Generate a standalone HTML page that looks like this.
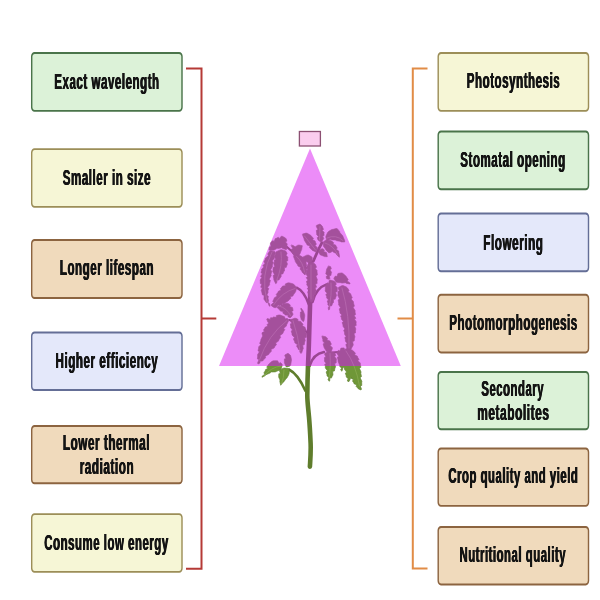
<!DOCTYPE html>
<html><head><meta charset="utf-8"><title>LED light effects</title>
<style>
html,body{margin:0;padding:0;background:#fff;}
body{width:600px;height:600px;position:relative;overflow:hidden;font-family:"Liberation Sans",sans-serif;}
svg{position:absolute;left:0;top:0;display:block;}
text{font-family:"Liberation Sans",sans-serif;font-weight:bold;font-size:21.8px;fill:#141414;text-anchor:middle;letter-spacing:1.0px;}
</style></head><body>
<svg width="600" height="600" viewBox="0 0 600 600">
<g fill="none" stroke-width="2">
<path d="M186 68.5 H201.5 V568.7 H186 M201.5 318.5 H216.3" stroke="#b53a36"/>
<path d="M427.5 68.5 H412.8 V568.6 H427.5 M412.8 318.4 H397.5" stroke="#e18c46"/>
</g>
<rect x="299.4" y="131.5" width="21" height="14.5" fill="#facdee" stroke="#8c5073" stroke-width="1.3"/>
<polygon points="310,148.5 400.8,366 219,366" fill="#ec8cf8"/>
<defs>
<clipPath id="ctop"><rect x="200" y="140" width="220" height="226"/></clipPath>
<clipPath id="cbot"><rect x="200" y="366" width="220" height="120"/></clipPath>
<g id="pl" stroke-linejoin="round" stroke-linecap="round">
<path id="lv" d="M269.0 249.7 L269.4 246.9 L271.0 246.6 L270.4 243.2 L271.0 242.3 L272.7 240.6 L274.1 241.4 L275.3 238.6 L276.3 238.3 L278.3 237.2 L279.4 238.4 L281.3 236.2 L282.3 236.3 L285.4 237.9 L286.3 239.0 L286.9 241.1 L285.5 241.9 L287.3 244.1 L287.0 245.0 L286.9 248.4 L286.3 249.7 L282.8 248.6 L281.7 247.7 L278.4 248.5 L277.0 248.3 L274.3 250.1 L273.0 250.3 L270.1 250.2Z M269.7 251.0 L267.7 254.0 L268.5 255.5 L265.3 258.3 L265.0 259.7 L263.8 262.1 L265.1 263.3 L262.7 265.7 L264.0 266.8 L261.6 269.2 L261.7 270.3 L261.0 272.8 L262.4 273.7 L260.5 276.4 L261.9 277.3 L260.1 280.0 L260.3 281.0 L260.3 283.6 L261.8 284.1 L260.7 287.2 L262.3 287.7 L261.2 290.7 L261.7 291.7 L262.4 294.9 L264.1 295.3 L263.9 299.2 L264.7 300.3 L266.3 302.7 L268.0 302.3 L269.0 305.7 L270.0 306.3 L269.6 303.6 L268.0 303.2 L268.6 299.9 L268.0 299.0 L268.3 296.1 L266.8 295.3 L268.2 292.1 L267.8 291.0 L268.8 288.5 L267.5 287.4 L269.6 284.8 L269.5 283.7 L270.4 280.4 L269.1 279.2 L271.2 275.7 L271.0 274.3 L271.8 271.0 L270.5 269.9 L272.5 266.4 L272.3 265.0 L273.4 262.2 L272.1 261.0 L274.4 258.2 L274.3 257.0 L275.2 253.2 L275.0 251.7 L271.2 250.8Z M276.3 251.7 L280.1 249.9 L281.7 249.7 L285.2 250.8 L286.3 251.7 L287.2 254.0 L285.8 255.0 L287.9 257.3 L287.7 258.3 L287.8 260.8 L286.3 261.3 L287.5 264.1 L287.0 265.0 L286.1 267.6 L284.5 267.6 L284.5 270.9 L283.7 271.7 L282.8 274.0 L281.2 273.9 L281.1 277.0 L280.3 277.7 L278.9 280.1 L277.3 279.8 L276.6 283.1 L275.7 283.7 L273.9 279.9 L273.7 278.3 L273.1 275.5 L274.5 274.5 L272.7 271.5 L273.0 270.3 L273.1 267.4 L274.7 266.8 L273.7 263.4 L274.3 262.3 L274.2 259.9 L275.7 259.4 L274.5 256.6 L275.0 255.7 L275.6 252.7Z M291.7 245.0 L294.3 246.1 L295.0 247.0 L297.7 245.2 L299.0 245.0 L302.3 245.7 L301.7 249.6 L301.0 251.0 L299.9 254.0 L299.0 255.0 L295.7 255.9 L294.3 255.7 L292.1 253.0 L291.7 251.7 L291.3 249.3 L292.8 248.6 L291.3 245.9Z M293.7 255.7 L297.5 254.8 L299.0 255.0 L302.6 257.1 L303.7 258.3 L305.9 262.0 L306.3 263.7 L306.7 266.1 L305.2 266.7 L306.7 269.4 L306.3 270.3 L305.7 273.8 L305.0 275.0 L302.3 272.4 L301.7 271.0 L299.9 269.0 L300.8 267.6 L297.9 266.0 L297.7 265.0 L295.4 261.8 L295.0 260.3 L293.7 257.1Z M303.0 257.0 L306.7 255.2 L308.3 255.0 L311.4 256.6 L312.3 257.7 L312.2 260.6 L311.7 261.7 L308.9 262.5 L307.7 262.3 L305.1 261.2 L304.3 260.3Z M302.7 234.0 L306.0 233.1 L307.3 233.3 L310.9 235.4 L312.0 236.7 L313.5 238.4 L312.6 239.7 L315.2 241.1 L315.3 242.0 L316.4 244.3 L315.1 245.4 L317.4 247.7 L317.3 248.7 L316.0 252.0 L312.4 250.4 L311.3 249.3 L309.4 247.6 L310.0 246.1 L307.1 245.0 L306.7 244.0 L304.4 240.4 L304.0 238.7 L302.7 235.4Z M316.7 225.3 L320.0 224.0 L322.2 226.1 L322.7 227.3 L323.5 229.4 L322.2 230.3 L324.2 232.4 L324.0 233.3 L324.1 235.5 L322.6 235.9 L323.8 238.5 L323.3 239.3 L321.7 241.5 L320.7 242.0 L318.0 240.0 L317.2 237.7 L318.5 236.7 L316.5 234.3 L316.7 233.3 L316.3 230.4 L317.8 229.6 L316.3 226.4Z M326.0 236.0 L327.6 232.4 L328.7 231.3 L331.9 229.5 L333.3 229.3 L336.1 228.5 L337.3 228.7 L339.6 231.4 L340.0 232.7 L342.7 235.8 L343.3 237.3 L344.7 240.6 L344.7 242.0 L341.3 241.9 L340.0 241.3 L336.5 240.7 L335.3 240.0 L331.9 239.9 L330.7 239.3 L327.9 240.2 L326.7 240.0 L325.8 237.2Z M323.3 242.0 L325.6 240.2 L326.7 240.0 L330.6 240.6 L332.0 241.3 L333.7 242.7 L333.0 244.2 L335.7 245.1 L336.0 246.0 L337.3 248.0 L336.2 249.2 L338.7 251.0 L338.7 252.0 L339.5 255.8 L339.3 257.3 L336.6 254.7 L336.0 253.3 L333.4 252.2 L332.7 251.3 L329.9 252.7 L328.7 252.7 L326.0 250.1 L325.3 248.7 L323.5 246.4 L323.3 245.3Z M318.7 250.7 L321.4 248.9 L322.7 248.7 L324.4 250.1 L323.7 251.6 L326.4 252.4 L326.7 253.3 L327.3 256.7 L324.4 256.6 L323.3 256.0 L320.0 254.7 L318.7 251.9Z M308.3 263.7 L311.1 262.3 L312.3 262.3 L315.0 264.0 L315.7 265.0 L316.5 267.3 L315.2 268.3 L317.2 270.7 L317.0 271.7 L317.4 275.0 L315.9 276.0 L317.4 279.7 L317.0 281.0 L317.1 283.6 L315.5 284.1 L316.6 287.2 L315.1 287.7 L316.2 290.7 L315.7 291.7 L315.3 294.7 L313.7 295.1 L314.3 298.7 L313.7 299.7 L312.0 301.8 L311.0 302.3 L309.7 299.5 L310.8 298.3 L308.3 295.5 L308.3 294.3 L307.6 291.8 L309.0 290.9 L307.2 288.3 L308.6 287.4 L306.7 284.7 L307.0 283.7 L306.5 281.2 L307.9 280.3 L306.2 277.6 L307.7 276.8 L306.0 274.0 L306.3 273.0 L306.2 270.5 L307.7 270.0 L306.5 267.2 L307.0 266.3Z M328.7 266.0 L330.7 266.7 L331.3 269.0 L329.9 269.8 L331.6 272.3 L331.3 273.3 L330.9 275.6 L329.3 275.7 L329.9 278.6 L329.3 279.3 L326.7 278.7 L326.1 276.6 L327.5 275.8 L325.7 273.6 L326.0 272.7 L326.6 269.2 L327.3 268.0Z M334.0 278.0 L335.4 276.0 L337.0 276.6 L337.8 273.7 L338.7 273.3 L341.6 272.9 L342.7 273.3 L345.8 275.9 L346.7 277.3 L348.2 279.5 L347.2 280.9 L349.9 282.9 L350.0 284.0 L346.5 283.4 L345.3 282.7 L342.0 283.1 L340.7 282.7 L337.3 282.6 L336.0 282.0 L334.2 279.3Z M326.0 284.7 L327.2 282.8 L328.7 283.3 L329.2 280.4 L330.0 280.0 L333.9 281.1 L335.3 282.0 L336.4 284.3 L335.1 285.4 L337.4 287.7 L337.3 288.7 L337.2 291.6 L335.6 292.2 L336.6 295.6 L336.0 296.7 L335.1 299.2 L333.5 299.2 L333.5 302.5 L332.7 303.3 L331.6 305.9 L329.9 305.8 L329.6 309.3 L328.7 310.0 L328.1 307.6 L329.5 306.8 L327.7 304.3 L328.0 303.3 L327.2 301.0 L328.5 300.0 L326.5 297.7 L326.7 296.7 L325.8 294.4 L327.2 293.4 L325.1 291.0 L325.3 290.0 L325.4 286.1Z M338.7 287.3 L341.7 285.7 L343.0 285.5 L346.4 287.0 L347.5 288.0 L349.1 290.4 L348.1 291.7 L350.8 293.9 L351.0 295.0 L352.3 297.8 L351.1 299.0 L353.5 301.8 L353.5 303.0 L354.4 306.2 L353.1 307.3 L355.2 310.7 L355.0 312.0 L355.6 314.6 L354.2 315.5 L355.9 318.3 L354.5 319.1 L356.3 321.9 L356.0 323.0 L356.2 325.5 L354.6 326.1 L355.9 329.0 L355.5 330.0 L355.5 332.9 L353.9 333.5 L355.0 336.9 L354.5 338.0 L354.2 341.0 L352.6 341.4 L353.3 345.0 L352.7 346.0 L350.7 349.8 L349.5 351.0 L347.0 348.3 L346.5 347.0 L345.8 344.5 L347.2 343.6 L345.3 341.0 L345.5 340.0 L344.8 337.5 L346.2 336.7 L344.4 334.0 L344.7 333.0 L343.7 330.2 L345.0 329.1 L342.9 326.2 L343.0 325.0 L342.1 322.6 L343.4 321.5 L341.3 319.1 L341.5 318.0 L340.6 315.9 L341.9 315.0 L339.8 312.9 L340.0 312.0 L339.2 308.9 L340.5 307.8 L338.5 304.6 L338.7 303.3 L338.1 300.0 L339.5 298.9 L337.7 295.3 L338.0 294.0 L337.9 291.5 L339.4 291.0 L338.2 288.2Z M296.7 287.7 L294.1 284.6 L292.7 283.7 L288.9 282.8 L287.3 283.0 L285.2 284.1 L285.5 285.7 L282.5 286.1 L282.0 287.0 L280.3 288.7 L281.1 290.1 L278.3 291.3 L278.0 292.3 L276.2 294.5 L277.1 296.0 L274.2 297.9 L274.0 299.0 L272.7 301.3 L273.8 302.5 L271.3 304.6 L271.3 305.7 L274.0 307.5 L275.3 307.7 L278.9 306.1 L280.0 305.0 L283.5 303.9 L284.7 303.0 L288.2 300.9 L289.3 299.7 L291.0 298.3 L290.3 296.8 L293.0 295.9 L293.3 295.0 L295.6 291.8 L296.0 290.3Z M276.7 306.3 L278.9 305.0 L280.1 306.2 L282.2 303.7 L283.3 303.7 L287.2 303.3 L288.7 303.7 L290.4 305.1 L289.7 306.6 L292.4 307.4 L292.7 308.3 L293.1 310.7 L291.6 311.4 L293.1 314.1 L292.7 315.0 L291.0 317.2 L290.0 317.7 L287.9 316.8 L288.2 315.2 L285.2 315.1 L284.7 314.3 L282.8 313.1 L283.3 311.6 L280.4 311.1 L280.0 310.3 L277.3 307.7Z M288.7 319.7 L287.0 318.2 L285.6 319.1 L284.3 316.5 L283.3 316.3 L280.1 315.0 L278.7 315.0 L276.4 315.6 L276.4 317.3 L273.4 317.0 L272.7 317.7 L270.5 317.8 L270.2 319.4 L267.5 318.5 L266.7 319.0 L267.8 322.0 L268.7 323.0 L267.0 324.7 L267.8 326.1 L265.0 327.3 L264.7 328.3 L263.4 330.1 L264.5 331.3 L262.0 332.8 L262.0 333.7 L262.7 336.0 L260.9 339.5 L260.7 341.0 L259.6 343.4 L260.9 344.5 L258.6 346.9 L258.7 348.0 L258.0 350.8 L259.4 351.8 L257.5 354.8 L257.7 356.0 L257.4 358.9 L259.0 359.6 L257.6 362.9 L258.0 364.0 L260.1 362.9 L259.8 361.3 L262.8 360.9 L263.3 360.0 L265.7 357.8 L265.2 356.2 L268.7 354.5 L269.3 353.3 L271.5 351.2 L270.9 349.6 L274.2 347.9 L274.7 346.7 L276.5 344.5 L275.6 343.0 L278.5 341.1 L278.7 340.0 L280.7 337.3 L279.8 335.8 L283.0 333.3 L283.3 332.0 L284.8 329.6 L283.7 328.3 L286.4 326.1 L286.5 325.0 L288.4 321.3Z M290.7 319.7 L294.4 318.3 L296.0 318.3 L298.1 319.4 L297.8 321.0 L300.8 321.4 L301.3 322.3 L303.1 324.3 L302.2 325.7 L305.1 327.3 L305.3 328.3 L306.2 330.6 L304.8 331.6 L306.9 334.0 L306.7 335.0 L306.3 337.5 L304.7 337.8 L305.3 340.9 L304.7 341.7 L304.3 344.7 L302.7 345.1 L303.3 348.7 L302.7 349.7 L301.8 352.6 L301.0 353.5 L299.6 351.8 L300.6 350.5 L298.1 349.2 L298.0 348.3 L296.5 346.1 L297.5 344.8 L294.8 342.8 L294.7 341.7 L293.4 338.9 L294.5 337.7 L292.0 334.9 L292.0 333.7 L291.2 331.1 L292.5 330.1 L290.5 327.4 L290.7 326.3 L290.3 323.9 L291.8 323.3 L290.3 320.6Z M301.3 308.3 L303.3 311.0 L304.7 314.7 L304.7 316.3 L304.1 320.3 L303.3 321.7 L301.3 319.7 L300.3 315.9 L300.4 314.3 L300.4 312.1 L301.9 311.7 L300.8 309.1Z M322.3 336.0 L325.7 336.7 L327.6 338.4 L327.0 339.9 L329.9 341.0 L330.3 342.0 L331.4 344.3 L330.1 345.4 L332.4 347.7 L332.3 348.7 L331.0 352.0 L327.6 351.9 L326.3 351.3 L324.1 347.6 L323.7 346.0 L323.1 343.9 L324.5 343.1 L322.7 340.9 L323.0 340.0 L322.1 337.2Z M325.0 353.3 L328.2 351.5 L329.7 351.3 L333.6 352.4 L335.0 353.3 L335.8 355.6 L334.5 356.6 L336.5 359.0 L336.3 360.0 L336.2 362.9 L334.6 363.5 L335.6 366.9 L335.0 368.0 L334.4 371.0 L332.7 371.3 L333.0 375.0 L332.3 376.0 L331.4 378.1 L329.8 377.8 L329.8 380.8 L329.0 381.3 L327.9 379.0 L329.2 377.9 L326.9 375.7 L327.0 374.7 L326.1 371.9 L327.4 370.8 L325.3 367.9 L325.4 366.7 L324.7 364.3 L326.1 363.5 L324.3 361.0 L324.6 360.0 L324.4 357.6 L325.9 357.0 L324.6 354.2Z M337.0 352.0 L338.4 350.3 L339.9 351.0 L340.8 348.3 L341.7 348.0 L344.1 347.9 L344.6 349.4 L347.4 348.2 L348.3 348.7 L352.4 350.2 L353.7 351.3 L355.5 353.3 L354.6 354.7 L357.5 356.3 L357.7 357.3 L359.0 359.6 L357.8 360.8 L360.3 362.9 L360.3 364.0 L360.9 367.3 L359.4 368.3 L361.1 372.0 L360.8 373.3 L361.5 376.6 L360.1 377.7 L361.9 381.3 L361.7 382.7 L361.8 385.4 L360.3 386.0 L361.5 389.0 L361.0 390.0 L358.4 388.9 L357.7 388.0 L356.0 386.3 L356.8 384.9 L354.0 383.7 L353.7 382.7 L352.4 380.9 L353.5 379.7 L351.0 378.2 L351.0 377.3 L349.4 380.9 L348.3 382.0 L347.2 380.0 L348.4 378.9 L346.2 377.0 L346.3 376.0 L345.3 373.2 L346.6 372.1 L344.4 369.2 L344.5 368.0 L343.0 367.0 L342.4 370.2 L341.7 371.3 L340.6 369.3 L341.8 368.2 L339.6 366.3 L339.7 365.3 L338.1 361.6 L338.0 360.0 L337.3 357.2 L338.7 356.2 L336.8 353.2Z M285.3 354.7 L288.0 353.3 L290.2 355.0 L290.7 356.0 L291.5 359.8 L291.3 361.3 L290.7 364.8 L290.0 366.0 L287.2 366.9 L286.0 366.7 L284.5 362.9 L284.4 361.3 L284.4 358.9 L285.9 358.4 L284.8 355.6Z M282.0 364.0 L280.3 362.5 L279.0 363.4 L277.6 360.8 L276.7 360.7 L273.3 360.8 L272.0 361.3 L268.9 363.9 L268.0 365.3 L266.7 367.1 L267.8 368.3 L265.3 369.8 L265.3 370.7 L263.8 372.9 L264.8 374.2 L262.1 376.2 L262.0 377.3 L265.1 375.7 L266.0 374.7 L270.0 373.1 L271.3 372.0 L275.2 371.9 L276.7 371.3 L280.2 369.8 L281.3 368.7 L282.2 365.4Z M280.0 370.0 L283.2 368.2 L284.7 368.0 L288.1 368.6 L289.3 369.3 L289.2 373.2 L288.7 374.7 L287.1 377.8 L286.0 378.7 L283.9 381.8 L282.7 382.7 L280.7 385.3 L279.8 381.5 L280.0 380.0 L278.7 377.2 L278.7 376.0 L278.8 373.8 L280.4 373.5 L279.5 370.8Z" stroke-width="0.6"/>
</g>
<g id="st" fill="none" stroke-linecap="round">
<path d="M309.9 466.6 C310.3 460 311 452 310.6 443 C310.2 434 309.8 426 309 417 C308.2 408 307.2 401 307.3 395 C307.4 385 307.6 376 308 366 C308.4 357 308.8 348 309 340 C309.3 330 309.6 320 310.2 300 L310.5 262" stroke-width="4.6"/>
<path d="M287 247 Q292 251 296 256 T306 268" stroke-width="2.2"/>
<path d="M322 242.7 Q318 250 313.3 261.3" stroke-width="2.8"/>
<path d="M296.7 287.7 Q304 291 308.7 304.3" stroke-width="2.4"/>
<path d="M326.5 284.4 Q316 288 312.6 302" stroke-width="2.4"/>
<path d="M289.3 320 Q300 322 308 334" stroke-width="2.0"/>
<path d="M324 352 Q313 354 309.7 366" stroke-width="2.4"/>
<path d="M289 369.5 Q298 374 305.5 391" stroke-width="2.6"/>
<path d="M332 352.5 L338 352" stroke-width="2.0"/>
</g>
<g id="vn" fill="none" stroke-linecap="round" stroke-width="0.9">
<path d="M272 252 Q260 275 267 302 M281 252 Q283 265 276.5 281 M311 265 L311 299 M342 288 Q350 315 349 348 M331 283 Q332 296 329 307 M295 288.5 Q282 292 273.5 305 M287 320.5 Q268 335 259.5 360 M293 320.5 Q298 335 300 351 M315.5 250 L304.5 236 M327 238 Q336 234 343 240.5 M325 243 Q333 245 338 255 M346 351 Q356 365 359.5 386 M330 353.5 Q331 368 329 378 M281 366 Q271 367 264 376 M284 370 Q284 378 281.5 384 M319.5 240 L320 226.5 M296.5 256.5 Q303 262 304.5 272 M279 306 Q287 308 290.5 315.5"/>
</g>
</defs>
<g clip-path="url(#ctop)"><use href="#st" stroke="#9a4592"/><use href="#pl" fill="#a4509c" stroke="#a4509c"/><use href="#vn" stroke="#b666ae"/></g>
<g clip-path="url(#cbot)"><use href="#st" stroke="#5f7d2c"/><use href="#pl" fill="#6f9738" stroke="#5f8030"/><use href="#vn" stroke="#86a84e"/></g>
<rect transform="scale(0.75,1)" x="42.27" y="52.95" width="200.40" height="57.90" rx="3.73" ry="3.6" fill="#dcf2d8" stroke="#4a744a" stroke-width="1.9"/>
<rect transform="scale(0.75,1)" x="42.27" y="149.15" width="200.40" height="57.70" rx="3.73" ry="3.6" fill="#f6f6d6" stroke="#9c8e58" stroke-width="1.9"/>
<rect transform="scale(0.75,1)" x="42.27" y="239.95" width="200.40" height="58.10" rx="3.73" ry="3.6" fill="#f0dabc" stroke="#8c6440" stroke-width="1.9"/>
<rect transform="scale(0.75,1)" x="42.27" y="332.45" width="200.40" height="57.60" rx="3.73" ry="3.6" fill="#e4e8fa" stroke="#646e96" stroke-width="1.9"/>
<rect transform="scale(0.75,1)" x="42.27" y="425.95" width="200.40" height="57.30" rx="3.73" ry="3.6" fill="#f0dabc" stroke="#8c6440" stroke-width="1.9"/>
<rect transform="scale(0.75,1)" x="42.27" y="514.15" width="200.40" height="57.70" rx="3.73" ry="3.6" fill="#f6f6d6" stroke="#9c8e58" stroke-width="1.9"/>
<rect transform="scale(0.75,1)" x="584.27" y="52.95" width="200.40" height="57.90" rx="3.73" ry="3.6" fill="#f6f6d6" stroke="#9c8e58" stroke-width="1.9"/>
<rect transform="scale(0.75,1)" x="584.27" y="131.45" width="200.40" height="57.80" rx="3.73" ry="3.6" fill="#dcf2d8" stroke="#4a744a" stroke-width="1.9"/>
<rect transform="scale(0.75,1)" x="584.27" y="213.45" width="200.40" height="57.80" rx="3.73" ry="3.6" fill="#e4e8fa" stroke="#646e96" stroke-width="1.9"/>
<rect transform="scale(0.75,1)" x="584.27" y="294.75" width="200.40" height="57.70" rx="3.73" ry="3.6" fill="#f0dabc" stroke="#8c6440" stroke-width="1.9"/>
<rect transform="scale(0.75,1)" x="584.27" y="371.95" width="200.40" height="57.30" rx="3.73" ry="3.6" fill="#dcf2d8" stroke="#4a744a" stroke-width="1.9"/>
<rect transform="scale(0.75,1)" x="584.27" y="448.45" width="200.40" height="57.40" rx="3.73" ry="3.6" fill="#f0dabc" stroke="#8c6440" stroke-width="1.9"/>
<rect transform="scale(0.75,1)" x="584.27" y="526.95" width="200.40" height="57.50" rx="3.73" ry="3.6" fill="#f0dabc" stroke="#8c6440" stroke-width="1.9"/>
<g style="opacity:0.999">
<g transform="translate(106.96,88.50)">
<text transform="translate(-0.3,0) scale(0.5298,1)">Exact wavelength</text>
<text transform="translate(0.3,0) scale(0.5298,1)">Exact wavelength</text>
<text transform="translate(0,0) scale(0.5298,1)">Exact wavelength</text>
</g>
<g transform="translate(106.92,184.80)">
<text transform="translate(-0.3,0) scale(0.5304,1)">Smaller in size</text>
<text transform="translate(0.3,0) scale(0.5304,1)">Smaller in size</text>
<text transform="translate(0,0) scale(0.5304,1)">Smaller in size</text>
</g>
<g transform="translate(106.92,275.20)">
<text transform="translate(-0.3,0) scale(0.5318,1)">Longer lifespan</text>
<text transform="translate(0.3,0) scale(0.5318,1)">Longer lifespan</text>
<text transform="translate(0,0) scale(0.5318,1)">Longer lifespan</text>
</g>
<g transform="translate(106.92,367.80)">
<text transform="translate(-0.3,0) scale(0.5337,1)">Higher efficiency</text>
<text transform="translate(0.3,0) scale(0.5337,1)">Higher efficiency</text>
<text transform="translate(0,0) scale(0.5337,1)">Higher efficiency</text>
</g>
<g transform="translate(106.47,449.90)">
<text transform="translate(-0.3,0) scale(0.5378,1)">Lower thermal</text>
<text transform="translate(0.3,0) scale(0.5378,1)">Lower thermal</text>
<text transform="translate(0,0) scale(0.5378,1)">Lower thermal</text>
</g>
<g transform="translate(106.92,474.40)">
<text transform="translate(-0.3,0) scale(0.5397,1)">radiation</text>
<text transform="translate(0.3,0) scale(0.5397,1)">radiation</text>
<text transform="translate(0,0) scale(0.5397,1)">radiation</text>
</g>
<g transform="translate(106.51,550.20)">
<text transform="translate(-0.3,0) scale(0.5248,1)">Consume low energy</text>
<text transform="translate(0.3,0) scale(0.5248,1)">Consume low energy</text>
<text transform="translate(0,0) scale(0.5248,1)">Consume low energy</text>
</g>
<g transform="translate(513.52,88.20)">
<text transform="translate(-0.3,0) scale(0.5308,1)">Photosynthesis</text>
<text transform="translate(0.3,0) scale(0.5308,1)">Photosynthesis</text>
<text transform="translate(0,0) scale(0.5308,1)">Photosynthesis</text>
</g>
<g transform="translate(513.02,166.70)">
<text transform="translate(-0.3,0) scale(0.5303,1)">Stomatal opening</text>
<text transform="translate(0.3,0) scale(0.5303,1)">Stomatal opening</text>
<text transform="translate(0,0) scale(0.5303,1)">Stomatal opening</text>
</g>
<g transform="translate(513.37,249.50)">
<text transform="translate(-0.3,0) scale(0.5386,1)">Flowering</text>
<text transform="translate(0.3,0) scale(0.5386,1)">Flowering</text>
<text transform="translate(0,0) scale(0.5386,1)">Flowering</text>
</g>
<g transform="translate(513.52,330.20)">
<text transform="translate(-0.3,0) scale(0.5314,1)">Photomorphogenesis</text>
<text transform="translate(0.3,0) scale(0.5314,1)">Photomorphogenesis</text>
<text transform="translate(0,0) scale(0.5314,1)">Photomorphogenesis</text>
</g>
<g transform="translate(512.71,396.00)">
<text transform="translate(-0.3,0) scale(0.5208,1)">Secondary</text>
<text transform="translate(0.3,0) scale(0.5208,1)">Secondary</text>
<text transform="translate(0,0) scale(0.5208,1)">Secondary</text>
</g>
<g transform="translate(513.37,420.20)">
<text transform="translate(-0.3,0) scale(0.5476,1)">metabolites</text>
<text transform="translate(0.3,0) scale(0.5476,1)">metabolites</text>
<text transform="translate(0,0) scale(0.5476,1)">metabolites</text>
</g>
<g transform="translate(513.36,483.20)">
<text transform="translate(-0.3,0) scale(0.5203,1)">Crop quality and yield</text>
<text transform="translate(0.3,0) scale(0.5203,1)">Crop quality and yield</text>
<text transform="translate(0,0) scale(0.5203,1)">Crop quality and yield</text>
</g>
<g transform="translate(512.76,562.20)">
<text transform="translate(-0.3,0) scale(0.5221,1)">Nutritional quality</text>
<text transform="translate(0.3,0) scale(0.5221,1)">Nutritional quality</text>
<text transform="translate(0,0) scale(0.5221,1)">Nutritional quality</text>
</g>
</g>
</svg>
</body></html>
